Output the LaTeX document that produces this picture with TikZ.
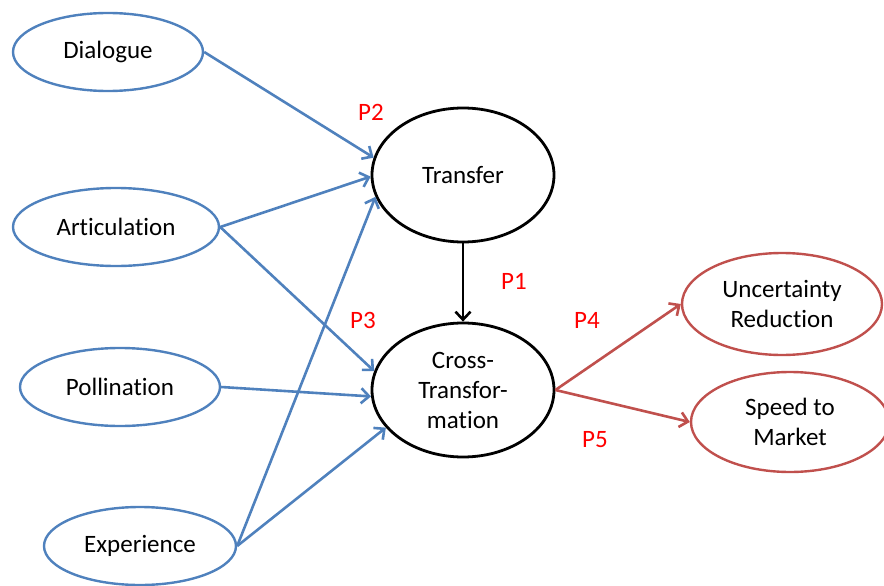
\documentclass[tikz,border=0pt]{standalone}
\usepackage{fontspec}
\setmainfont{Carlito}[Ligatures=NoCommon]
\usetikzlibrary{shapes.geometric,arrows.meta}
\definecolor{oblue}{HTML}{4F81BD}
\definecolor{ored}{HTML}{C0504D}
\definecolor{plabel}{HTML}{FF0000}
\tikzset{
  txt/.style={font=\fontsize{25}{30}\selectfont, align=center},
  bubble/.style={ellipse, draw, txt, inner sep=0pt},
  inbubble/.style={bubble, draw=oblue, line width=2.4pt},
  corebubble/.style={bubble, draw=black, line width=2.8pt},
  outbubble/.style={bubble, draw=ored, line width=2.4pt},
  tip/.style={-{Straight Barb[length=8pt,width=15pt]}},
  inlink/.style={tip, draw=oblue, line width=2.6pt},
  corelink/.style={tip, draw=black, line width=2.6pt},
  outlink/.style={tip, draw=ored, line width=2.6pt},
  plab/.style={txt, text=plabel},
}
\begin{document}
\begin{tikzpicture}[x=1pt,y=-1pt]
  \useasboundingbox (0,0) rectangle (884,586);

  % drivers on the left
  \node[inbubble, minimum width=190pt, minimum height=78pt] (dia) at (108,52)  {Dialogue};
  \node[inbubble, minimum width=206pt, minimum height=78pt] (art) at (116,227) {Articulation};
  \node[inbubble, minimum width=200pt, minimum height=78pt] (pol) at (120,387) {Pollination};
  \node[inbubble, minimum width=192pt, minimum height=78pt] (exp) at (140,546) {Experience};

  % central constructs
  \node[corebubble, minimum width=182pt, minimum height=134pt] (tr) at (463,175) {Transfer};
  \node[corebubble, minimum width=182pt, minimum height=134pt] (cr) at (463,390) {Cross-\\Transfor-\\mation};

  % outcomes
  \node[outbubble, minimum width=200pt, minimum height=102pt] (unc) at (782,304) {Uncertainty\\Reduction};
  \node[outbubble, minimum width=198pt, minimum height=100pt] (spd) at (790,422) {Speed to\\Market};

  % proposition labels
  \node[plab] (p1) at (514,281) {P1};
  \node[plab] (p2) at (371,112) {P2};
  \node[plab] (p3) at (363,320) {P3};
  \node[plab] (p4) at (587,320) {P4};
  \node[plab] (p5) at (595,440) {P5};

  % links into Transfer
  \draw[inlink] (dia.east) -- (tr.169);
  \draw[inlink] (art.east) -- (tr.181);
  \draw[inlink] (exp.east) -- (tr.194);

  % links into Cross-Transformation
  \draw[inlink] (art.east) -- (cr.168);
  \draw[inlink] (pol.east) -- (cr.184);
  \draw[inlink] (exp.east) -- (cr.206);

  % Transfer feeds Cross-Transformation
  \draw[corelink] (tr.south) -- (cr.north);

  % outcomes
  \draw[outlink] (cr.east) -- (unc.west);
  \draw[outlink] (cr.east) -- (spd.west);
\end{tikzpicture}
\end{document}
